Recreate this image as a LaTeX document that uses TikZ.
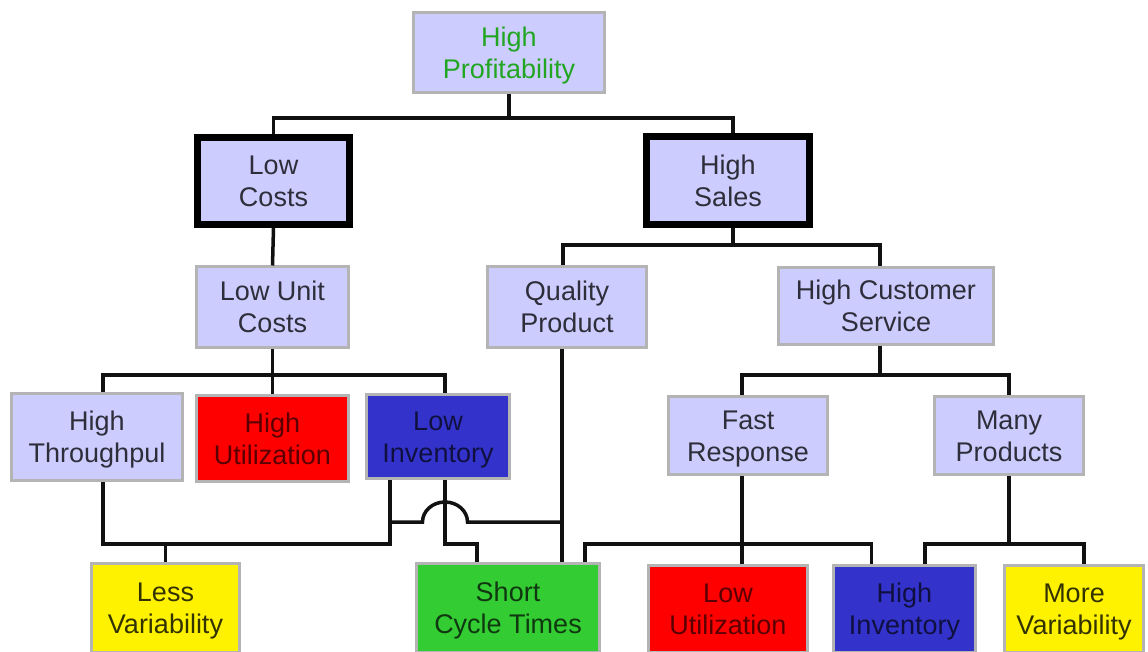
\documentclass[tikz,border=0pt]{standalone}
\usepackage{fontspec}
\setmainfont{Liberation Sans}
\newcommand\twolines[2]{\begin{tabular}[t]{@{}c@{}}#1\\#2\end{tabular}}
\begin{document}
\begin{tikzpicture}[x=1pt,y=-1pt,
  box/.style={draw=boxgray,line width=3pt,inner sep=0pt,
    font=\fontsize{27}{32}\selectfont,text=txtgray,
    text height=25.7pt,text depth=38.3pt},
  lav/.style={box,fill=lav},
  thick box/.style={box,draw=black,line width=7pt,fill=lav},
  redbox/.style={box,fill=red,text=darkred},
  bluebox/.style={box,fill=myblue,text=navytxt},
  greenbox/.style={box,fill=mygreen,text=greentxt},
  yellowbox/.style={box,fill=yellow,text=olivetxt},
  conn/.style={draw=linecol,line width=3.5pt}]
\definecolor{boxgray}{HTML}{B4B4B4}
\definecolor{lav}{HTML}{CCCCFF}
\definecolor{txtgray}{HTML}{2E2E3A}
\definecolor{darkred}{HTML}{5A0000}
\definecolor{myblue}{HTML}{3333CC}
\definecolor{navytxt}{HTML}{101040}
\definecolor{mygreen}{HTML}{33CC33}
\definecolor{greentxt}{HTML}{103810}
\definecolor{olivetxt}{HTML}{333300}
\definecolor{proftxt}{HTML}{22A622}
\definecolor{linecol}{HTML}{111111}
\useasboundingbox (0,0) rectangle (1148,652);
\fill[white] (0,0) rectangle (1148,652);
\clip (0,0) rectangle (1148,652);

% level coordinates
\coordinate (y1) at (0,118);
\coordinate (y2) at (0,245);
\coordinate (y3) at (0,375);
\coordinate (yhop) at (0,522);
\coordinate (y4) at (0,544);

% nodes
\node[lav,minimum width=191pt,minimum height=80pt,text=proftxt] (prof) at (509,52.5) {\twolines{High}{Profitability}};
\node[thick box,minimum width=152pt,minimum height=87pt] (lowcosts) at (273.5,181) {\twolines{Low}{Costs}};
\node[thick box,minimum width=163pt,minimum height=88pt] (highsales) at (728,180.5) {\twolines{High}{Sales}};
\node[lav,minimum width=152pt,minimum height=80pt] (lowunit) at (272.5,307) {\twolines{Low Unit}{Costs}};
\node[lav,minimum width=159pt,minimum height=80pt] (quality) at (567,307) {\twolines{Quality}{Product}};
\node[lav,minimum width=215pt,minimum height=77pt] (hcs) at (886,306) {\twolines{High Customer}{Service}};
\node[lav,minimum width=171pt,minimum height=87pt] (throughput) at (97,437) {\twolines{High}{Throughpul}};
\node[redbox,minimum width=152pt,minimum height=86pt] (highutil) at (272.5,438.5) {\twolines{High}{Utilization}};
\node[bluebox,minimum width=143pt,minimum height=84pt] (lowinv) at (438,436.5) {\twolines{Low}{Inventory}};
\node[lav,minimum width=159pt,minimum height=78pt] (fast) at (748,435.5) {\twolines{Fast}{Response}};
\node[lav,minimum width=149pt,minimum height=78pt] (many) at (1009,435.5) {\twolines{Many}{Products}};
\node[yellowbox,minimum width=148pt,minimum height=89pt] (lessvar) at (165.5,608) {\twolines{Less}{Variability}};
\node[greenbox,minimum width=183pt,minimum height=89pt] (shortcycle) at (508,608) {\twolines{Short}{Cycle Times}};
\node[redbox,minimum width=159pt,minimum height=87pt] (lowutil) at (728,609) {\twolines{Low}{Utilization}};
\node[bluebox,minimum width=142pt,minimum height=87pt] (highinv) at (904.5,609) {\twolines{High}{Inventory}};
\node[yellowbox,minimum width=139pt,minimum height=87pt] (morevar) at (1074,609) {\twolines{More}{Variability}};

% connectors
\draw[conn] (prof.south) -- (prof.south |- y1) -| (lowcosts.north);
\draw[conn] (prof.south |- y1) -| ([xshift=5pt]highsales.north);
\draw[conn] (lowcosts.south) -- (lowunit.north);
\draw[conn] ([xshift=5pt]highsales.south) -- ([xshift=5pt]highsales.south |- y2) -| ([xshift=-4pt]quality.north);
\draw[conn] ([xshift=5pt]highsales.south |- y2) -| ([xshift=-6pt]hcs.north);
\draw[conn] (lowunit.south) -- (lowunit.south |- y3) -| ([xshift=6pt]throughput.north);
\draw[conn] (lowunit.south |- y3) -| ([xshift=7pt]lowinv.north);
\draw[conn] (lowunit.south |- y3) -- (highutil.north);
\draw[conn] ([xshift=-6pt]hcs.south) -- ([xshift=-6pt]hcs.south |- y3) -| ([xshift=-6pt]fast.north);
\draw[conn] ([xshift=-6pt]hcs.south |- y3) -| (many.north);

\draw[conn] ([xshift=6pt]throughput.south) -- ([xshift=6pt]throughput.south |- y4) -| ([xshift=-48pt]lowinv.south);
\draw[conn] (lessvar.north) -- (lessvar.north |- y4);
\draw[conn] ([xshift=-48pt]lowinv.south |- yhop) -- ([xshift=-15.5pt]lowinv.south |- yhop)
  arc[start angle=180,end angle=0,x radius=22.5pt,y radius=20pt] -- ([xshift=-5pt]quality.south |- yhop);
\draw[conn] ([xshift=-5pt]quality.south) -- ([xshift=-5pt]quality.south |- shortcycle.north);
\draw[conn] ([xshift=7pt]lowinv.south) -- ([xshift=7pt]lowinv.south |- y4) -| ([xshift=-31pt]shortcycle.north);

\draw[conn] ([xshift=-6pt]fast.south) -- ([xshift=-6pt]fast.south |- y4) -| ([xshift=77pt]shortcycle.north);
\draw[conn] ([xshift=-6pt]fast.south |- y4) -| ([xshift=-33pt]highinv.north);
\draw[conn] ([xshift=-6pt]fast.south |- y4) -- ([xshift=14pt]lowutil.north);
\draw[conn] (many.south) -- (many.south |- y4) -| ([xshift=20.5pt]highinv.north);
\draw[conn] (many.south |- y4) -| ([xshift=10pt]morevar.north);
\end{tikzpicture}
\end{document}
